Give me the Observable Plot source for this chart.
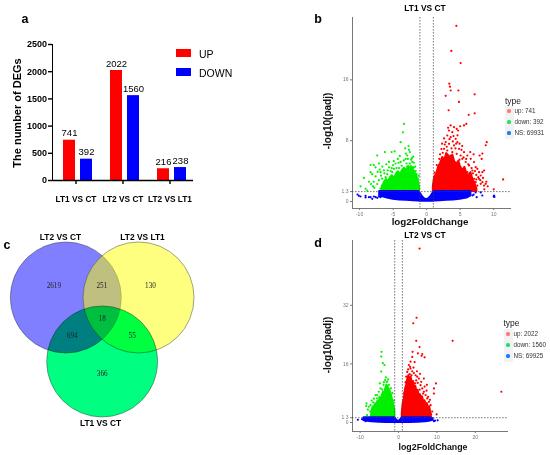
<!DOCTYPE html>
<html><head><meta charset="utf-8">
<script src="https://cdn.jsdelivr.net/npm/d3@7"></script>
<script src="https://cdn.jsdelivr.net/npm/@observablehq/plot@0.6"></script>
<style>
body{margin:0;background:#fff;}
#root{position:relative;width:550px;height:455px;overflow:hidden;background:#fff;font-family:"Liberation Sans",Arial,sans-serif;}
#root svg{position:absolute;overflow:visible;}
.t{position:absolute;white-space:nowrap;line-height:1;}
.key{position:absolute;}
#pa g[aria-label^="fx-axis"] text{font-size:8.3px;}
#pa g[aria-label^="y-axis"] path, #pa g[aria-label^="y-axis"] line,
#pa g[aria-label^="fx-axis"] path, #pa g[aria-label^="fx-axis"] line{stroke-width:1.4px;}
</style></head><body><div id="root"></div>
<script>
// ---------- Panel a: DEG counts ----------
const barCats = ["LT1 VS CT", "LT2 VS CT", "LT2 VS LT1"];
const barTypes = ["UP", "DOWN"];
const upCounts = [741, 2022, 216];
const downCounts = [392, 1560, 238];
const barTicks = [0, 500, 1000, 1500, 2000, 2500];
const barColors = ["#ff0000", "#0000ff"];

// ---------- Panel b: LT1 VS CT volcano ----------
const bCounts = {up: 741, down: 392, ns: 69931};
const bXTicks = [-10, -5, 0, 5, 10];
const bYTicks = [0, 1.3, 8, 16];
const bUpPts = [[4.43,23.1],[3.68,19.8],[5.07,18.2],[3.38,15.5],[3.48,15.1],[2.84,13.9],[3.58,14.6],[4.73,14.6],[7.16,14.1],[4.82,13.1],[3.28,12.0],[6.27,11.4],[7.16,11.6],[5.92,10.2],[5.57,10.0],[8.96,7.8],[8.81,7.4],[8.31,6.3],[11.4,2.9],[10.0,1.6],
[3.58,10.0],[4.08,9.78],[4.48,9.56],[4.68,9.34],[3.33,9.34],[3.83,9.12],[3.08,8.68],[3.58,8.46],[4.33,8.25],[4.58,7.81],[2.84,7.81],[3.33,7.59],[4.08,7.37],[4.83,6.93],[2.59,6.93],[3.08,6.71],[3.83,6.49],[4.48,6.27],[5.07,6.05],[5.32,5.61],[5.82,5.18],[5.57,6.49],[6.07,6.05],[6.57,5.61],[7.06,5.18],[7.31,4.52],[7.56,4.30],[7.81,3.86],[8.06,3.42],[8.31,3.86],[8.56,4.08],[7.81,2.98],[8.31,2.54],[6.32,4.74],[6.82,4.08],[5.82,3.86],[3.58,6.05],[2.84,5.83],[2.34,5.61],[1.84,4.74],[1.59,4.08],[1.34,3.42],[1.09,2.76],[2.09,5.18],[3.08,5.61],[4.08,5.18],[4.58,4.96],[5.07,4.52],[5.57,4.30],[6.07,3.86],[6.57,3.42],[7.06,2.98],[7.31,2.54],[7.56,2.10],[8.06,2.32],[8.56,2.10],[8.81,2.32],[7.06,1.89],[5.0,9.9],[7.9,6.05],[8.2,5.6],[2.6,8.3],[3.9,7.9],[4.3,7.0],[2.4,6.4],[1.9,5.6],[4.9,5.5],[6.4,3.2],[7.4,3.5],[8.6,1.6],[9.1,2.0],
[2.2,6.9],[2.7,7.5],[3.0,7.2],[3.4,8.2],[3.7,7.0],[4.0,8.6],[4.4,7.6],[4.9,7.6],[5.2,6.8],[5.5,5.8],[5.9,5.6],[6.2,4.9],[6.7,4.4],[7.2,4.0],[7.7,3.2],[1.5,4.8],[1.2,3.8],[2.0,6.2],[6.9,3.7],[7.4,2.9],[8.0,2.8],[8.4,3.1],[8.9,2.6],[5.3,7.3],[4.6,8.7],[3.2,9.7],[2.3,7.6],[6.5,6.5],[7.0,6.2]];
const bDownPts = [[-3.38,10.2],[-3.53,9.1],[-3.88,7.8],[-2.64,6.8],[-2.49,6.5],[-2.89,6.05],[-3.13,5.6],[-6.22,6.5],[-5.22,6.5],[-4.78,6.6],[-7.36,6.05],[-8.36,4.8],[-7.86,4.8],[-7.61,4.5],[-7.11,5.0],[-5.62,5.2],[-4.63,5.0],[-3.88,5.2],[-9.35,3.1],[-9.85,2.0],[-9.1,1.67],[-8.85,1.45],[-8.36,3.86],[-8.11,3.6],[-6.87,3.86],[-6.37,4.1],[-4.38,3.86],[-5.12,3.86],[-2.14,5.2],[-2.39,4.7],[-1.89,4.5],[-1.64,4.0],[-2.89,4.6],[-3.38,4.3],[-3.63,4.0],[-4.13,4.4],[-4.88,4.3],[-5.37,4.0],[-5.87,3.6],[-6.12,3.2],[-6.62,3.0],[-7.11,2.8],[-7.36,2.3],[-7.61,3.3],[-8.6,2.6],[-8.0,2.0],[-6.9,1.7],[-1.3,3.0],[-2.0,5.9],[-2.3,5.5],[-3.0,5.0],[-4.3,5.6],[-5.0,4.8],[-5.6,4.5],[-6.6,4.6],[-7.0,4.2],[-3.2,7.0],[-2.7,7.3],[-4.0,6.0],[-1.5,3.6],[-2.6,4.2],[-3.9,3.6],[-4.6,3.4],[-5.4,3.2],[-6.4,2.6],[-7.8,1.8],
[-1.2,3.4],[-1.7,4.6],[-2.2,5.7],[-2.5,5.0],[-3.4,5.4],[-3.7,4.7],[-4.2,5.1],[-4.9,5.3],[-5.2,4.4],[-5.8,4.1],[-6.3,3.7],[-6.8,3.4],[-7.3,3.9],[-7.9,2.6],[-8.3,2.3],[-2.8,5.6],[-1.9,5.1],[-3.1,6.3],[-4.5,4.4],[-6.0,4.9]];
const bNsPts = [[-10.3,0.92],[-10.1,0.75],[-9.85,0.66],[-9.1,0.75],[-9.1,0.53],[-8.6,0.57],[-8.36,0.57],[-8.1,0.35],[-7.86,0.66],[-7.6,0.57],[-7.36,0.48],[-7.1,0.66],[-6.87,0.57],[6.82,0.79],[7.0,0.9],[7.3,1.2],[7.46,0.57],[8.06,1.2],[8.3,0.79],[10.0,0.66],[10.05,0.79],[10.1,0.6]];
const bNsCoreX  = [-7.0,-6.0,-5.0,-4.0,-3.0,-2.0,-1.15,-0.9,-0.6,-0.3,0,0.3,0.6,0.9,1.15,2.0,3.0,4.0,5.0,6.0,6.6];
const bNsCoreHi = [1.3,1.3,1.3,1.3,1.3,1.3,1.3,1.0,0.6,0.35,0.25,0.35,0.6,1.0,1.3,1.3,1.3,1.3,1.3,1.3,1.3];
const bNsCoreLo = [0.75,0.5,0.3,0.2,0.15,0.1,0.05,0.05,0.05,0.05,0.05,0.05,0.05,0.05,0.05,0.1,0.15,0.2,0.3,0.45,0.75];
const bUpCoreX  = [1.0,1.2,1.5,1.8,2.1,2.4,2.7,3.0,3.3,3.6,3.9,4.2,4.5,4.8,5.1,5.4,5.7,6.0,6.3,6.6,6.9,7.2,7.5];
const bUpCoreHi = [2.0,3.2,3.6,4.6,5.0,5.8,5.4,6.3,6.0,5.6,6.1,5.2,4.9,5.3,4.4,4.1,4.5,3.6,3.4,3.8,2.9,2.4,1.6];
const bDownCoreX  = [-6.6,-6.3,-6.0,-5.7,-5.4,-5.1,-4.8,-4.5,-4.2,-3.9,-3.6,-3.3,-3.0,-2.7,-2.4,-2.1,-1.8,-1.5,-1.2,-1.05];
const bDownCoreHi = [2.0,2.4,2.9,2.6,3.1,3.4,3.0,3.6,3.9,3.5,4.1,4.4,4.0,4.6,4.3,4.5,3.9,3.4,2.6,1.8];

// ---------- Panel d: LT2 VS CT volcano ----------
const dCounts = {up: 2022, down: 1560, ns: 69925};
const dXTicks = [-10, 0, 10, 20];
const dYTicks = [0, 1.3, 16, 32];
const dUpPts = [[5.48,47.5],[4.70,28.6],[3.83,27.1],[14.1,22.3],[4.61,22.3],[5.48,20.6],[3.66,19.3],[5.05,18.9],[6.18,18.7],[6.79,17.8],[6.0,18.2],[3.57,17.9],[3.13,16.6],[26.8,8.4],[9.75,10.66],[9.23,9.3],[9.23,7.9],[9.92,2.19],
[2.7,15.7],[3.13,14.75],[2.26,13.8],[3.57,14.0],[4.0,13.5],[4.44,12.9],[4.87,12.5],[5.31,12.0],[3.9,15.0],[2.5,14.5],[2.0,12.5],[1.83,11.0],[4.6,11.5],[5.0,10.8],[5.74,10.2],[6.18,9.3],[5.5,9.0],[6.61,8.4],[7.05,7.5],[6.4,7.9],[7.48,6.56],[7.92,5.65],[8.36,4.74],[8.0,3.5],[5.9,11.1],[6.8,9.8],[7.3,8.7],[4.3,10.7],[3.4,12.9],[2.9,13.2],[1.5,8.0],[1.2,5.5],[8.79,3.0],[8.5,2.3],[7.7,7.0],[6.0,7.2],[4.2,16.5],[3.0,15.2],[5.6,13.3],[6.6,12.0],[7.4,10.3],[8.2,6.2],[4.8,14.0]];
const dDownPts = [[-4.44,19.3],[-4.52,18.0],[-4.1,16.2],[-3.66,15.7],[-4.52,13.9],[-3.83,11.0],[-3.13,11.1],[-4.87,10.7],[-6.0,7.5],[-8.36,5.2],[-7.75,4.3],[-7.31,4.74],[-8.0,3.5],[-7.0,6.0],[-6.4,6.5],[-5.57,7.5],[-5.14,8.4],[-4.7,9.3],[-4.26,9.0],[-3.5,11.6],[-2.9,11.2],[-2.5,10.3],[-2.0,9.3],[-1.6,8.0],[-1.2,6.0],[-3.9,10.3],[-5.6,6.6],[-6.6,5.5],[-7.4,3.0],[-8.44,4.5],[-7.0,2.2],[-8.2,2.0],[-6.2,4.4],[-5.0,7.0],[-3.3,12.3],[-2.7,11.8]];
const dNsPts = [[-10.6,0.75],[-9.05,0.64],[-9.5,0.9],[-8.6,0.36],[9.5,0.5],[9.22,0.36],[8.8,1.0],[10.2,0.6]];
const dNsCoreX  = [-9.0,-8.0,-7.0,-5.0,-3.0,-1.0,-0.7,-0.35,0,0.35,0.7,1.0,3.0,5.0,7.0,8.0,9.0];
const dNsCoreHi = [1.3,1.3,1.3,1.3,1.3,1.3,0.9,0.5,0.3,0.5,0.9,1.3,1.3,1.3,1.3,1.3,1.0];
const dNsCoreLo = [0.6,0.35,0.2,0.05,0,0,0,0,0,0,0,0,0,0.05,0.2,0.35,0.6];
const dUpCoreX  = [0.96,1.2,1.5,1.8,2.1,2.4,2.7,3.0,3.3,3.6,3.9,4.2,4.5,4.8,5.1,5.4,5.7,6.0,6.3,6.6,6.9,7.2,7.5,7.8,8.1,8.4,8.6];
const dUpCoreHi = [2.5,5.0,6.5,9.0,10.2,11.8,12.8,11.5,12.4,10.6,11.2,9.4,9.9,8.3,8.8,7.2,7.6,6.3,6.8,5.5,5.9,4.8,5.2,4.0,4.3,2.8,1.4];
const dDownCoreX  = [-7.1,-6.9,-6.6,-6.3,-6.0,-5.7,-5.4,-5.1,-4.8,-4.5,-4.2,-3.9,-3.6,-3.3,-3.0,-2.7,-2.4,-2.1,-1.8,-1.5,-1.2,-0.96];
const dDownCoreHi = [1.4,3.2,4.3,3.9,5.1,4.7,5.8,5.4,6.6,6.2,7.4,8.3,7.8,9.4,10.2,9.6,9.0,8.3,7.2,6.0,4.6,3.2];

// ---------- Panel c: Venn ----------
const vennSets = ["LT2 VS CT", "LT2 VS LT1", "LT1 VS CT"];
const vennFill = ["#0000ff", "#ffff00", "#00ff80"];
const vennCx = [0, 1.31, 0.655];
const vennCy = [0, 0, -1.153];
const vennLabelX = [-0.096, 1.382, 0.625];
const vennLabelY = [1.081, 1.081, -2.27];
const vennCounts = [2619, 251, 130, 18, 694, 55, 366];
const vennCountX = [-0.216, 0.649, 1.526, 0.656, 0.115, 1.196, 0.656];
const vennCountY = [0.204, 0.204, 0.204, -0.373, -0.690, -0.690, -1.364];

const RED = "#ff0000", GREEN = "#00f000", BLUE = "#0000ff";
const root = document.getElementById("root");

function place(svg, left, top) {
  svg.style.left = left + "px"; svg.style.top = top + "px";
  root.appendChild(svg);
  return svg;
}
function addText(s, x, y, o = {}) {
  const d = document.createElement("div");
  d.className = "t";
  d.textContent = s;
  d.style.left = x + "px"; d.style.top = y + "px";
  d.style.fontSize = (o.size || 10) + "px";
  d.style.fontWeight = o.weight || "normal";
  d.style.color = o.color || "#000";
  if (o.family) d.style.fontFamily = o.family;
  const tx = o.anchor === "start" ? "0" : "-50%";
  d.style.transform = `translate(${tx},-50%)` + (o.rot ? ` rotate(${o.rot}deg)` : "");
  root.appendChild(d);
}
function addBox(x, y, w, h, color, radius) {
  const d = document.createElement("div");
  d.className = "key";
  Object.assign(d.style, {left: x + "px", top: y + "px", width: w + "px", height: h + "px", background: color});
  if (radius) d.style.borderRadius = radius;
  root.appendChild(d);
}

// ---------- Panel a ----------
const barRows = [];
barCats.forEach((c, i) => {
  barRows.push({cat: c, type: barTypes[0], n: upCounts[i]});
  barRows.push({cat: c, type: barTypes[1], n: downCounts[i]});
});
const pa = Plot.plot({
  width: 275, height: 215, marginLeft: 52, marginRight: 82, marginTop: 44, marginBottom: 35,
  style: {fontFamily: "Liberation Sans, Arial, sans-serif", fontSize: "9px", fontWeight: "bold", color: "#000", background: "transparent", overflow: "visible"},
  facet: {data: barRows, x: "cat"},
  fx: {domain: barCats, padding: 0, axis: "bottom", label: null, tickSize: 4, tickPadding: 12},
  x: {domain: barTypes, axis: null, paddingInner: 0.3, paddingOuter: 0.52, align: 0.6},
  y: {domain: [0, 2500], ticks: barTicks, line: true, label: null, tickSize: 4, tickPadding: 1.5, tickFormat: d => String(d)},
  color: {domain: barTypes, range: barColors},
  marks: [
    Plot.barY(barRows, {x: "type", y: "n", fill: "type"}),
    Plot.text(barRows, {x: "type", y: "n", text: d => String(d.n), dy: -7, fontWeight: "normal", fontSize: 9.5}),
    Plot.ruleY([0], {strokeWidth: 1.5})
  ]
});
pa.id = "pa";
place(pa, 0, 0);

// ---------- Volcano builder ----------
function volcano(cfg) {
  const env = (xs, lo, hi) => xs.map((x, i) => ({x, lo: Array.isArray(lo) ? lo[i] : lo, hi: hi[i]}));
  const pts = a => a.map(([x, y]) => ({x, y}));
  const dash = {stroke: "#444", strokeWidth: 0.7, strokeDasharray: "1.6,1.4"};
  return Plot.plot({
    width: 250, height: cfg.h, marginLeft: 52, marginRight: cfg.mr, marginTop: cfg.mt, marginBottom: cfg.mb,
    style: {fontFamily: "Liberation Sans, Arial, sans-serif", fontSize: "5px", color: "#777", background: "transparent", overflow: "visible"},
    x: {domain: cfg.xd, ticks: cfg.xt, tickSize: 2, tickPadding: 1.5, line: true, label: null, tickFormat: d => String(d)},
    y: {domain: cfg.yd, ticks: cfg.yt, tickSize: 2, tickPadding: 2, line: true, label: null, tickFormat: d => String(d)},
    marks: [
      Plot.areaY(env(cfg.upX, 1.3, cfg.upHi), {x: "x", y1: "lo", y2: "hi", fill: RED, stroke: RED, strokeWidth: 2, strokeLinejoin: "round"}),
      Plot.areaY(env(cfg.dnX, 1.3, cfg.dnHi), {x: "x", y1: "lo", y2: "hi", fill: GREEN, stroke: GREEN, strokeWidth: 2, strokeLinejoin: "round"}),
      Plot.areaY(env(cfg.nsX, cfg.nsLo, cfg.nsHi), {x: "x", y1: "lo", y2: "hi", fill: BLUE, stroke: BLUE, strokeWidth: 2, strokeLinejoin: "round"}),
      Plot.dot(pts(cfg.ns), {x: "x", y: "y", r: 1.1, fill: BLUE}),
      Plot.dot(pts(cfg.dn), {x: "x", y: "y", r: 1.1, fill: GREEN}),
      Plot.dot(pts(cfg.up), {x: "x", y: "y", r: 1.1, fill: RED}),
      Plot.ruleX([-1, 1], dash),
      Plot.ruleY([1.3], dash)
    ]
  });
}
function volcanoLegend(tx, ty, kx, ys, counts) {
  addText("type", tx, ty, {size: 8.5, anchor: "start", color: "#222"});
  const cols = ["#ff7a7a", "#1fe36a", "#1c7cff"];
  const labs = ["up: " + counts.up, "down: " + counts.down, "NS: " + counts.ns];
  ys.forEach((y, i) => {
    addBox(kx - 4.5, y - 5.5, 9, 11, "#f2f2f2");
    addBox(kx - 1.6, y - 1.6, 3.2, 3.2, cols[i], "50%");
    addText(labs[i], kx + 5.5, y, {size: 6.3, anchor: "start", color: "#333"});
  });
}

// ---------- Panel b ----------
place(volcano({h: 225, mr: 40, mt: 17, mb: 17, xd: [-11.05, 12.5], yd: [-0.92, 24.2], xt: bXTicks, yt: bYTicks,
  up: bUpPts, dn: bDownPts, ns: bNsPts,
  upX: bUpCoreX, upHi: bUpCoreHi, dnX: bDownCoreX, dnHi: bDownCoreHi,
  nsX: bNsCoreX, nsHi: bNsCoreHi, nsLo: bNsCoreLo}), 300, 0);

// ---------- Panel d ----------
place(volcano({h: 230, mr: 43, mt: 15, mb: 24, xd: [-12.0, 28.4], yd: [-2.46, 49.7], xt: dXTicks, yt: dYTicks,
  up: dUpPts, dn: dDownPts, ns: dNsPts,
  upX: dUpCoreX, upHi: dUpCoreHi, dnX: dDownCoreX, dnHi: dDownCoreHi,
  nsX: dNsCoreX, nsHi: dNsCoreHi, nsLo: dNsCoreLo}), 300, 225);

// ---------- Panel c ----------
const vennRows = vennSets.map((s, i) => ({set: s, x: vennCx[i], y: vennCy[i], fill: vennFill[i], lx: vennLabelX[i], ly: vennLabelY[i]}));
const countRows = vennCounts.map((n, i) => ({n, x: vennCountX[i], y: vennCountY[i]}));
const circ = {x: "x", y: "y", r: 55.5, stroke: "#3a3a3a", strokeWidth: 0.6, strokeOpacity: 0.8};
const pc = Plot.plot({
  width: 275, height: 230, marginLeft: 0, marginRight: 0, marginTop: 0, marginBottom: 0,
  style: {background: "transparent", overflow: "visible"},
  x: {domain: [-1.177, 3.778], axis: null},
  y: {domain: [-2.847, 1.297], axis: null},
  marks: [
    Plot.dot([vennRows[0]], {...circ, fill: vennRows[0].fill, fillOpacity: 0.5}),
    Plot.dot([vennRows[1]], {...circ, fill: vennRows[1].fill, fillOpacity: 0.5}),
    Plot.dot([vennRows[2]], {...circ, fill: vennRows[2].fill, mixBlendMode: "multiply"}),
    Plot.text(countRows, {x: "x", y: "y", text: d => String(d.n), fontFamily: "Liberation Serif, Times New Roman, serif", fontSize: 7.2, fill: "#222"}),
    Plot.text(vennRows, {x: "lx", y: "ly", text: "set", fontFamily: "Liberation Sans, Arial, sans-serif", fontSize: 8.4, fontWeight: "bold", fill: "#000"})
  ]
});
place(pc, 0, 225);
pc.querySelectorAll("circle").forEach(c => { if ((c.getAttribute("fill") || "").toLowerCase() === "#00ff80") c.style.mixBlendMode = "multiply"; });

// ---------- HTML labels ----------
addText("a", 25, 19, {size: 12.5, weight: "bold"});
addText("b", 318, 19, {size: 12.5, weight: "bold"});
addText("c", 7, 245, {size: 12.5, weight: "bold"});
addText("d", 318, 243, {size: 12.5, weight: "bold"});
addText("The number of DEGs", 16.5, 113, {size: 11, weight: "bold", rot: -90});
addBox(176, 49, 15, 8, barColors[0]);
addBox(176, 68, 15, 8, barColors[1]);
addText("UP", 199, 53.5, {size: 10.5, anchor: "start"});
addText("DOWN", 199, 72.5, {size: 10.5, anchor: "start"});

addText("LT1 VS CT", 425, 7.5, {size: 8.4, weight: "bold"});
addText("LT2 VS CT", 425, 235, {size: 8.4, weight: "bold"});
addText("-log10(padj)", 328, 121, {size: 10, weight: "bold", rot: -90, color: "#111"});
addText("-log10(padj)", 328, 345, {size: 10, weight: "bold", rot: -90, color: "#111"});
addText("log2FoldChange", 430, 221.5, {size: 9.8, weight: "bold", color: "#111"});
addText("log2FoldChange", 433, 447, {size: 8.8, weight: "bold", color: "#111"});
volcanoLegend(505, 101, 509, [111, 122, 133], bCounts);
volcanoLegend(503.5, 323, 508, [334, 345, 356], dCounts);
</script></body></html>
